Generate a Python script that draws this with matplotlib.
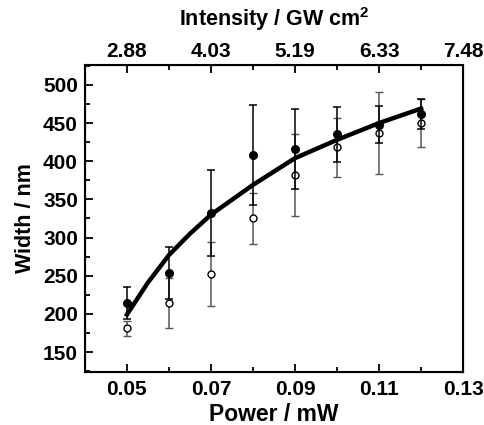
import numpy as np
import matplotlib.pyplot as plt
from matplotlib.ticker import MultipleLocator

plt.rcParams['font.family'] = ['Liberation Sans', 'DejaVu Sans']
plt.rcParams['font.weight'] = 'bold'
plt.rcParams['mathtext.fontset'] = 'custom'
plt.rcParams['mathtext.bf'] = 'Liberation Sans:bold'

# data
power = [0.05, 0.06, 0.07, 0.08, 0.09, 0.10, 0.11, 0.12]
width_filled = [214, 254, 332, 408, 416, 435, 448, 462]
err_filled = [21, 34, 56, 66, 52, 36, 24, 20]
width_open = [181, 214, 252, 325, 382, 418, 437, 450]
err_open = [10, 33, 42, 33, 54, 39, 54, 32]

fit_x = [0.05, 0.055, 0.06, 0.065, 0.07, 0.08, 0.09, 0.10, 0.11, 0.12]
fit_y = [199, 241, 277, 305, 330, 369, 404, 428, 450, 469]

bottom_ticks = [0.05, 0.07, 0.09, 0.11, 0.13]
bottom_labels = ['0.05', '0.07', '0.09', '0.11', '0.13']
top_labels = ['2.88', '4.03', '5.19', '6.33', '7.48']

fig = plt.figure(figsize=(4.85, 4.25), dpi=100)
ax = fig.add_axes([0.175, 0.125, 0.78, 0.722])

ax.errorbar(power, width_open, yerr=err_open, fmt='o', mfc='white', mec='black',
            ms=5, mew=1, ecolor='#555555', elinewidth=1.1, capsize=3, capthick=1.1, zorder=2)
ax.errorbar(power, width_filled, yerr=err_filled, fmt='o', color='black',
            ms=5.5, ecolor='black', elinewidth=1.1, capsize=3, capthick=1.1, zorder=3)
ax.plot(fit_x, fit_y, color='black', lw=3.2, zorder=4, solid_joinstyle='round')

ax.set_xlim(0.04, 0.13)
ax.set_ylim(124, 526)
ax.set_xticks(bottom_ticks)
ax.set_xticklabels(bottom_labels)
ax.xaxis.set_minor_locator(MultipleLocator(0.01))
ax.yaxis.set_major_locator(MultipleLocator(50))
ax.yaxis.set_minor_locator(MultipleLocator(25))
ax.tick_params(which='both', direction='in', labelsize=15, width=1.3)
ax.tick_params(which='major', length=6)
ax.tick_params(which='minor', length=3.5)
ax.tick_params(axis='x', pad=6)
ax.tick_params(axis='y', pad=5)
for s in ax.spines.values():
    s.set_linewidth(1.5)

ax.set_xlabel('Power / mW', fontsize=16.5, fontweight='bold')
ax.xaxis.set_label_coords(0.5, -0.1)
ax.set_ylabel('Width / nm', fontsize=15.5, fontweight='bold')
ax.yaxis.set_label_coords(-0.13, 0.5)

ax2 = ax.twiny()
ax2.set_xlim(ax.get_xlim())
ax2.set_xticks(bottom_ticks)
ax2.set_xticklabels(top_labels)
ax2.xaxis.set_minor_locator(MultipleLocator(0.01))
ax2.tick_params(which='both', direction='in', labelsize=15, width=1.3, pad=3)
ax2.tick_params(which='major', length=6)
ax2.tick_params(which='minor', length=3.5)
ax2.set_xlabel('Intensity / GW cm$^\\mathbf{2}$', fontsize=15.5, fontweight='bold')
ax2.xaxis.set_label_coords(0.5, 1.126)

fig.savefig('out.png', dpi=100)
